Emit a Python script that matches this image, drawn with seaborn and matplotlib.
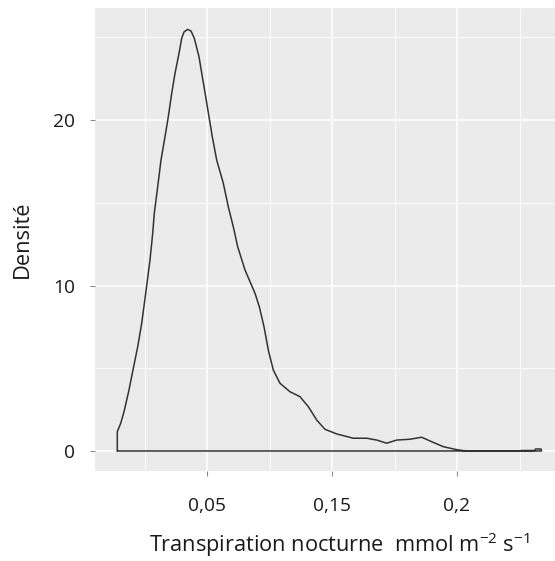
import matplotlib
matplotlib.use("Agg")
import matplotlib.pyplot as plt
from matplotlib.ticker import FixedLocator, FixedFormatter
import seaborn as sns
import pandas as pd

# Kernel density estimate of nocturnal transpiration (outline of the density polygon)
density_x = [0.01412, 0.01548, 0.0168, 0.0188, 0.02012, 0.02228, 0.02388, 0.02548,
             0.0272, 0.02828, 0.02892, 0.03028, 0.0316, 0.0332, 0.03452, 0.03588,
             0.0372, 0.0388, 0.03988, 0.0408, 0.04228, 0.0436, 0.04492, 0.0468,
             0.04812, 0.04948, 0.0508, 0.05212, 0.05388, 0.05652, 0.05852, 0.06052,
             0.06228, 0.0652, 0.0692, 0.07092, 0.0728, 0.07452, 0.07652, 0.0792,
             0.0832, 0.0872, 0.09052, 0.09388, 0.0972, 0.10188, 0.10852, 0.11388,
             0.11788, 0.12188, 0.12588, 0.1312, 0.13588, 0.13988, 0.14452, 0.1492,
             0.15252, 0.1572, 0.1744, 0.1760, 0.1810, 0.1814, 0.1836, 0.1838]
density_y = [1.17, 1.67, 2.37, 3.69, 4.69, 6.30, 7.72, 9.53,
             11.54, 13.15, 14.36, 15.97, 17.58, 18.99, 20.20, 21.61,
             22.82, 24.03, 24.94, 25.32, 25.48, 25.38, 24.94, 23.82,
             22.62, 21.41, 20.20, 18.99, 17.58, 16.18, 14.76, 13.55,
             12.34, 10.94, 9.53, 8.72, 7.51, 6.10, 4.89, 4.09,
             3.58, 3.28, 2.68, 1.87, 1.31, 1.03, 0.77, 0.77,
             0.66, 0.47, 0.66, 0.71, 0.83, 0.56, 0.26, 0.10,
             0.02, 0.0, 0.0, 0.03, 0.03, 0.12, 0.12, 0.0]

x_ticks = [0.05, 0.10, 0.15]
x_tick_labels = ["0,05", "0,15", "0,2"]
x_minor = [0.025, 0.075, 0.125, 0.175]
y_ticks = [0, 10, 20]
y_tick_labels = ["0", "10", "20"]
y_minor = [5, 15, 25]

sns.set_theme(style="darkgrid")
plt.rcParams["font.family"] = ["Open Sans", "DejaVu Sans"]
plt.rcParams["mathtext.fontset"] = "custom"
plt.rcParams["mathtext.rm"] = "Open Sans"
plt.rcParams["mathtext.it"] = "Open Sans"

# Close the polygon along the baseline, as a density outline does
poly_x = [density_x[0]] + density_x + [density_x[0]]
poly_y = [0.0] + density_y + [0.0]
df = pd.DataFrame({"x": poly_x, "y": poly_y, "order": range(len(poly_x))})

fig = plt.figure(figsize=(5.55, 5.61), dpi=100)
ax = fig.add_axes([95 / 555, 1 - 471 / 561, 460 / 555, 463 / 561])
ax.set_facecolor("#EBEBEB")

sns.lineplot(data=df, x="x", y="y", sort=False, estimator=None,
             color="#333333", linewidth=1.1, ax=ax)

ax.set_xlim(0.0052, 0.1892)
ax.set_ylim(-1.21, 26.77)

ax.xaxis.set_major_locator(FixedLocator(x_ticks))
ax.xaxis.set_major_formatter(FixedFormatter(x_tick_labels))
ax.xaxis.set_minor_locator(FixedLocator(x_minor))
ax.yaxis.set_major_locator(FixedLocator(y_ticks))
ax.yaxis.set_major_formatter(FixedFormatter(y_tick_labels))
ax.yaxis.set_minor_locator(FixedLocator(y_minor))

ax.grid(which="major", color="white", linewidth=1.1)
ax.grid(which="minor", color="white", linewidth=0.6)
ax.set_axisbelow(True)
for s in ax.spines.values():
    s.set_visible(False)

ax.tick_params(axis="both", which="major", length=3.5, width=0.8, color="#8A8A8A",
               labelsize=13.8, labelcolor="#1A1A1A", bottom=True, left=True)
ax.tick_params(axis="x", which="major", pad=15)
ax.tick_params(axis="y", which="major", pad=11)
ax.tick_params(which="minor", length=0)

ax.set_xlabel(r"Transpiration nocturne  mmol m$^{-2}$ s$^{-1}$", fontsize=15.7,
              color="#1A1A1A")
ax.xaxis.set_label_coords((339 - 95) / 460, (471 - 545) / 463)
ax.xaxis.label.set_va("center")
ax.set_ylabel("Densité", fontsize=15.7, color="#1A1A1A")
ax.yaxis.set_label_coords((22 - 95) / 460, 0.5)
ax.yaxis.label.set_va("center")

fig.savefig("out.png", dpi=100, facecolor="white")
